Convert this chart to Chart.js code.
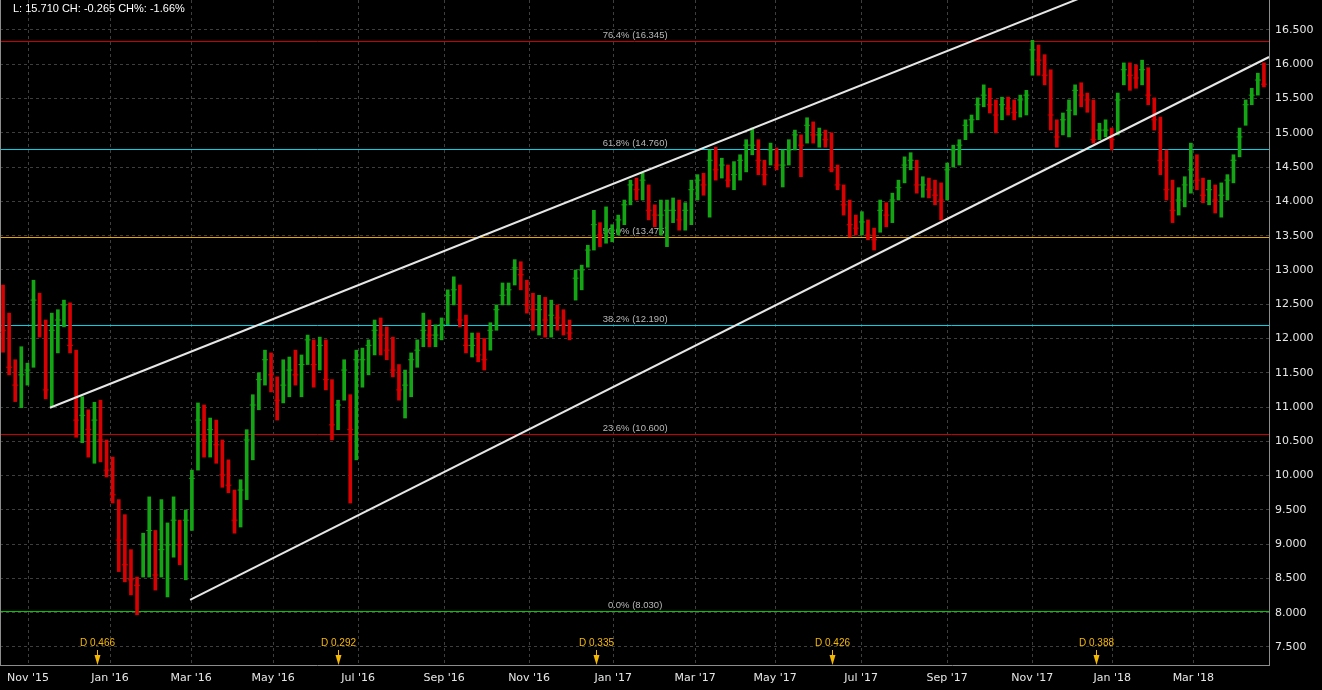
<!DOCTYPE html>
<html>
<head>
<meta charset="utf-8">
<script src="https://cdn.jsdelivr.net/npm/chart.js@4.4.1/dist/chart.umd.min.js"></script>
<style>
  html, body { margin: 0; padding: 0; background: #000; }
  #wrap { width: 1322px; height: 690px; }
</style>
</head>
<body>
<div id="wrap"><canvas id="chart" width="1322" height="690"></canvas></div>
<script>
// daily bars, sampled every 3 trading days (x = trading day index)
const highs = [
  12.78, 12.37, 11.69, 11.88, 11.64, 12.85, 12.66, 12.27, 12.37, 12.42, 12.56, 12.52, 11.83, 11.15, 10.96, 11.07,
  11.10, 10.52, 10.27, 9.65, 9.43, 8.92, 8.52, 9.16, 9.69, 9.20, 9.65, 9.31, 9.69, 9.35, 9.50, 10.08,
  11.06, 11.03, 10.84, 10.81, 10.52, 10.23, 9.79, 9.94, 10.67, 11.18, 11.50, 11.83, 11.79, 11.44, 11.69, 11.73,
  11.83, 11.76, 12.05, 11.98, 12.02, 11.98, 11.40, 11.10, 11.69, 11.18, 11.83, 11.86, 11.98, 12.27, 12.30, 12.17,
  12.02, 11.62, 11.54, 11.79, 11.98, 12.37, 12.27, 12.20, 12.30, 12.71, 12.90, 12.78, 12.34, 12.08, 12.08, 12.00,
  12.23, 12.49, 12.81, 12.81, 13.15, 13.12, 12.85, 12.66, 12.63, 12.60, 12.56, 12.49, 12.42, 12.27, 13.00, 13.07,
  13.36, 13.87, 13.69, 13.92, 13.66, 13.80, 14.02, 14.31, 14.34, 14.41, 14.24, 13.95, 14.02, 14.02, 14.05, 14.02,
  13.98, 14.31, 14.39, 14.41, 14.75, 14.79, 14.63, 14.53, 14.58, 14.68, 14.90, 15.07, 14.90, 14.60, 14.85, 14.78,
  14.75, 14.90, 15.04, 14.97, 15.22, 15.16, 15.07, 15.04, 15.00, 14.53, 14.24, 14.02, 13.80, 13.85, 13.73, 13.61,
  14.02, 13.98, 14.12, 14.31, 14.65, 14.71, 14.60, 14.36, 14.34, 14.31, 14.27, 14.56, 14.82, 14.90, 15.19, 15.26,
  15.51, 15.70, 15.65, 15.48, 15.52, 15.52, 15.48, 15.55, 15.62, 16.35, 16.28, 16.14, 15.92, 15.19, 15.29, 15.48,
  15.70, 15.73, 15.58, 15.48, 15.14, 15.19, 15.07, 15.58, 16.02, 16.02, 15.99, 16.06, 15.95, 15.51, 15.23, 14.75,
  14.31, 14.20, 14.36, 14.85, 14.68, 14.34, 14.31, 14.24, 14.27, 14.39, 14.68, 15.07, 15.48, 15.65, 15.87, 16.02
];
const lows = [
  11.80, 11.47, 11.08, 10.99, 11.32, 11.58, 12.02, 11.12, 11.00, 11.79, 12.17, 11.79, 10.56, 10.48, 10.27, 10.18,
  10.20, 9.98, 9.60, 8.60, 8.45, 8.26, 7.97, 8.52, 8.52, 8.33, 8.52, 8.23, 8.81, 8.70, 8.48, 9.20,
  10.08, 10.27, 10.27, 10.18, 9.83, 9.75, 9.16, 9.25, 9.65, 10.23, 10.96, 11.32, 11.22, 10.81, 11.06, 11.15,
  11.32, 11.15, 11.62, 11.29, 11.54, 11.25, 10.52, 10.67, 11.10, 9.60, 10.23, 11.29, 11.47, 11.76, 11.76, 11.69,
  11.44, 11.10, 10.84, 11.15, 11.58, 11.88, 11.88, 11.88, 11.98, 12.20, 12.49, 12.17, 11.79, 11.73, 11.66, 11.54,
  11.83, 12.12, 12.49, 12.49, 12.78, 12.71, 12.37, 12.12, 12.05, 12.02, 12.02, 12.12, 12.05, 11.98, 12.56, 12.71,
  13.04, 13.29, 13.34, 13.39, 13.41, 13.51, 13.66, 13.95, 14.02, 14.02, 13.73, 13.63, 13.51, 13.34, 13.69, 13.58,
  13.58, 13.66, 14.02, 14.09, 13.77, 14.31, 14.34, 14.21, 14.17, 14.31, 14.43, 14.68, 14.39, 14.24, 14.53, 14.46,
  14.21, 14.53, 14.75, 14.36, 14.85, 14.85, 14.79, 14.79, 14.43, 14.17, 13.80, 13.48, 13.51, 13.51, 13.44, 13.29,
  13.55, 13.63, 13.69, 14.02, 14.27, 14.46, 14.12, 14.06, 14.05, 13.95, 13.73, 14.02, 14.50, 14.53, 14.90, 15.00,
  15.19, 15.38, 15.29, 15.00, 15.19, 15.26, 15.19, 15.23, 15.26, 15.84, 15.84, 15.70, 15.04, 14.79, 14.97, 14.94,
  15.26, 15.38, 15.30, 14.85, 14.90, 14.94, 14.75, 14.97, 15.70, 15.62, 15.65, 15.70, 15.41, 15.04, 14.39, 14.02,
  13.69, 13.80, 13.92, 14.12, 14.17, 13.98, 13.95, 13.83, 13.77, 14.02, 14.27, 14.65, 15.11, 15.41, 15.55, 15.67
];
const closes = [
  12.12, 11.58, 11.32, 11.47, 11.54, 12.56, 12.20, 11.25, 12.12, 12.27, 12.49, 11.90, 10.81, 10.88, 10.67, 10.81,
  10.52, 10.08, 9.72, 9.06, 8.70, 8.48, 8.40, 8.99, 9.20, 8.55, 8.92, 8.99, 9.35, 8.99, 9.35, 9.96,
  10.81, 10.52, 10.67, 10.45, 10.01, 9.86, 9.35, 9.79, 10.52, 11.03, 11.40, 11.69, 11.47, 11.10, 11.32, 11.54,
  11.47, 11.62, 11.98, 11.62, 11.90, 11.40, 10.74, 11.03, 11.54, 10.67, 11.69, 11.69, 11.90, 12.12, 12.05, 11.83,
  11.54, 11.25, 11.32, 11.69, 11.83, 12.12, 12.05, 12.05, 12.20, 12.63, 12.71, 12.27, 11.90, 11.90, 11.76, 11.69,
  12.12, 12.42, 12.63, 12.71, 13.03, 12.93, 12.49, 12.42, 12.42, 12.27, 12.34, 12.30, 12.20, 12.08, 12.88, 13.00,
  13.29, 13.66, 13.51, 13.58, 13.58, 13.73, 13.95, 14.24, 14.17, 14.31, 13.87, 13.80, 13.80, 13.87, 13.87, 13.73,
  13.87, 14.17, 14.31, 14.24, 14.60, 14.46, 14.53, 14.31, 14.39, 14.60, 14.82, 14.82, 14.60, 14.39, 14.75, 14.53,
  14.53, 14.75, 14.97, 14.82, 15.11, 14.97, 14.97, 14.90, 14.46, 14.24, 13.95, 13.66, 13.61, 13.70, 13.51, 13.44,
  13.87, 13.80, 14.02, 14.20, 14.53, 14.60, 14.24, 14.24, 14.17, 14.09, 14.02, 14.46, 14.75, 14.82, 15.11, 15.19,
  15.41, 15.55, 15.41, 15.26, 15.41, 15.36, 15.30, 15.48, 15.55, 16.21, 16.06, 15.84, 15.26, 14.94, 15.19, 15.33,
  15.62, 15.55, 15.48, 14.90, 15.04, 15.04, 14.90, 15.48, 15.92, 15.84, 15.80, 15.92, 15.55, 15.19, 14.60, 14.17,
  13.87, 14.02, 14.24, 14.46, 14.31, 14.09, 14.17, 14.02, 14.09, 14.31, 14.60, 14.94, 15.41, 15.55, 15.77, 15.71
];

// fibonacci retracement levels
const fibNames = ["76.4%", "61.8%", "50.0%", "38.2%", "23.6%", "0.0%"];
const fibLevels = [16.345, 14.760, 13.475, 12.190, 10.600, 8.030];
const fibColors = ["#c80000", "#00d2e6", "#e8a800", "#00d2e6", "#c80000", "#00c800"];

// trend channel end points (day index, price)
const upperChannel = [{ x: 24.6, y: 10.99 }, { x: 625, y: 18.06 }];
const lowerChannel = [{ x: 93.6, y: 8.186 }, { x: 625, y: 16.106 }];

// dividends
const divDays = [47.7, 166.3, 293.3, 409.9, 539.7];
const divLabels = ["D 0.466", "D 0.292", "D 0.335", "D 0.426", "D 0.388"];

// axis ticks
const xTickDays = [13.8, 54.2, 94.1, 134.5, 176.4, 218.7, 260.6, 302, 342.4, 381.8, 424.1, 466.5, 508.4, 547.8, 587.7];
const xTickLabels = ["Nov '15", "Jan '16", "Mar '16", "May '16", "Jul '16", "Sep '16", "Nov '16", "Jan '17",
  "Mar '17", "May '17", "Jul '17", "Sep '17", "Nov '17", "Jan '18", "Mar '18"];
const yTicks = [7.5, 8, 8.5, 9, 9.5, 10, 10.5, 11, 11.5, 12, 12.5, 13, 13.5, 14, 14.5, 15, 15.5, 16, 16.5];

const lastPrice = 15.710;
const lastChange = -0.265;
const lastChangePct = -1.66;

const UP = "#14a514";
const DOWN = "#d80000";

const days = highs.map((_, i) => 1.5 + 3 * i);
const barColors = closes.map((c, i) => {
  const prev = i > 0 ? closes[i - 1] : (highs[0] + lows[0]) / 2;
  return c >= prev ? UP : DOWN;
});

const datasets = [];

datasets.push({
  type: "bar",
  data: days.map((d, i) => ({ x: d, y: [lows[i], highs[i]] })),
  backgroundColor: barColors,
  barThickness: 3,
  order: 2,
});

datasets.push({
  type: "line",
  data: days.map((d, i) => ({ x: d, y: closes[i] })),
  showLine: false,
  pointStyle: "line",
  pointRadius: 3,
  pointBorderWidth: 1,
  pointBorderColor: barColors,
  order: 1,
});

[upperChannel, lowerChannel].forEach((pts) => {
  datasets.push({
    type: "line",
    data: pts,
    borderColor: "#e6e6e6",
    borderWidth: 2,
    pointRadius: 0,
    order: 0,
  });
});

function zeroPad(s) {
  s.paddingLeft = 0;
  s.paddingRight = 0;
  s.paddingTop = 0;
  s.paddingBottom = 0;
}

const overlay = {
  id: "overlay",
  beforeDatasetsDraw(chart) {
    const { ctx, chartArea, scales } = chart;
    const ys = scales.y;
    ctx.save();
    // fib lines, snapped to whole pixels
    ctx.lineWidth = 1;
    fibLevels.forEach((lvl, i) => {
      const y = Math.round(ys.getPixelForValue(lvl)) + 0.5;
      ctx.strokeStyle = fibColors[i];
      ctx.beginPath();
      ctx.moveTo(chartArea.left, y);
      ctx.lineTo(chartArea.right, y);
      ctx.stroke();
    });
    // fib labels
    ctx.font = '9.5px "Liberation Sans"';
    ctx.fillStyle = "#b8b8b8";
    ctx.textAlign = "center";
    ctx.textBaseline = "alphabetic";
    const lx = scales.x.getPixelForValue(312.8);
    fibLevels.forEach((lvl, i) => {
      const y = Math.round(ys.getPixelForValue(lvl));
      ctx.fillText(fibNames[i] + " (" + lvl.toFixed(3) + ")", lx, y - 3);
    });
    ctx.restore();
  },
  afterDatasetsDraw(chart) {
    const { ctx, chartArea, scales } = chart;
    const xs = scales.x;
    ctx.save();

    // left frame line
    ctx.strokeStyle = "#8c8c8c";
    ctx.lineWidth = 1;
    ctx.beginPath();
    ctx.moveTo(chartArea.left + 0.5, chartArea.top);
    ctx.lineTo(chartArea.left + 0.5, chartArea.bottom);
    ctx.stroke();

    // dividend markers
    ctx.font = '10px "Liberation Sans"';
    ctx.fillStyle = "#f5b800";
    ctx.strokeStyle = "#f5b800";
    ctx.textAlign = "center";
    ctx.textBaseline = "middle";
    const b = chartArea.bottom;
    divDays.forEach((d, i) => {
      const x = Math.round(xs.getPixelForValue(d)) + 0.5;
      ctx.fillText(divLabels[i], x, b - 22);
      ctx.beginPath();
      ctx.moveTo(x, b - 15);
      ctx.lineTo(x, b - 9);
      ctx.stroke();
      ctx.beginPath();
      ctx.moveTo(x - 3, b - 10);
      ctx.lineTo(x + 3, b - 10);
      ctx.lineTo(x, b);
      ctx.closePath();
      ctx.fill();
    });

    // header
    ctx.font = '11px "Liberation Sans"';
    ctx.fillStyle = "#ffffff";
    ctx.textAlign = "left";
    ctx.fillText(
      "L: " + lastPrice.toFixed(3) + " CH: " + lastChange.toFixed(3) + " CH%: " + lastChangePct.toFixed(2) + "%",
      13, 9
    );
    ctx.restore();
  },
};

new Chart(document.getElementById("chart"), {
  type: "bar",
  data: { datasets },
  plugins: [overlay],
  options: {
    responsive: false,
    animation: false,
    events: [],
    layout: { padding: 0, autoPadding: false },
    plugins: { legend: { display: false }, tooltip: { enabled: false } },
    scales: {
      x: {
        type: "linear",
        min: 0,
        max: 625,
        offset: false,
        afterBuildTicks: (s) => { s.ticks = xTickDays.map((v) => ({ value: v })); },
        afterFit: (s) => { s.height = 25; zeroPad(s); },
        ticks: {
          autoSkip: false,
          maxRotation: 0,
          padding: 7,
          color: "#e6e6e6",
          font: { family: "DejaVu Sans", size: 11 },
          callback: (v, i) => xTickLabels[i],
        },
        grid: { color: "#3e3e3e", drawTicks: false, offset: false },
        border: { color: "#8c8c8c", dash: [3, 3] },
      },
      y: {
        position: "right",
        min: 7.2374,
        max: 16.9376,
        afterBuildTicks: (s) => { s.ticks = yTicks.map((v) => ({ value: v })); },
        afterFit: (s) => { s.width = 53; zeroPad(s); },
        ticks: {
          padding: 6,
          color: "#e6e6e6",
          font: { family: "DejaVu Sans", size: 11 },
          callback: (v) => Number(v).toFixed(3),
        },
        grid: { color: "#3e3e3e", drawTicks: false },
        border: { color: "#8c8c8c", dash: [3, 3] },
      },
    },
  },
});
</script>
</body>
</html>
